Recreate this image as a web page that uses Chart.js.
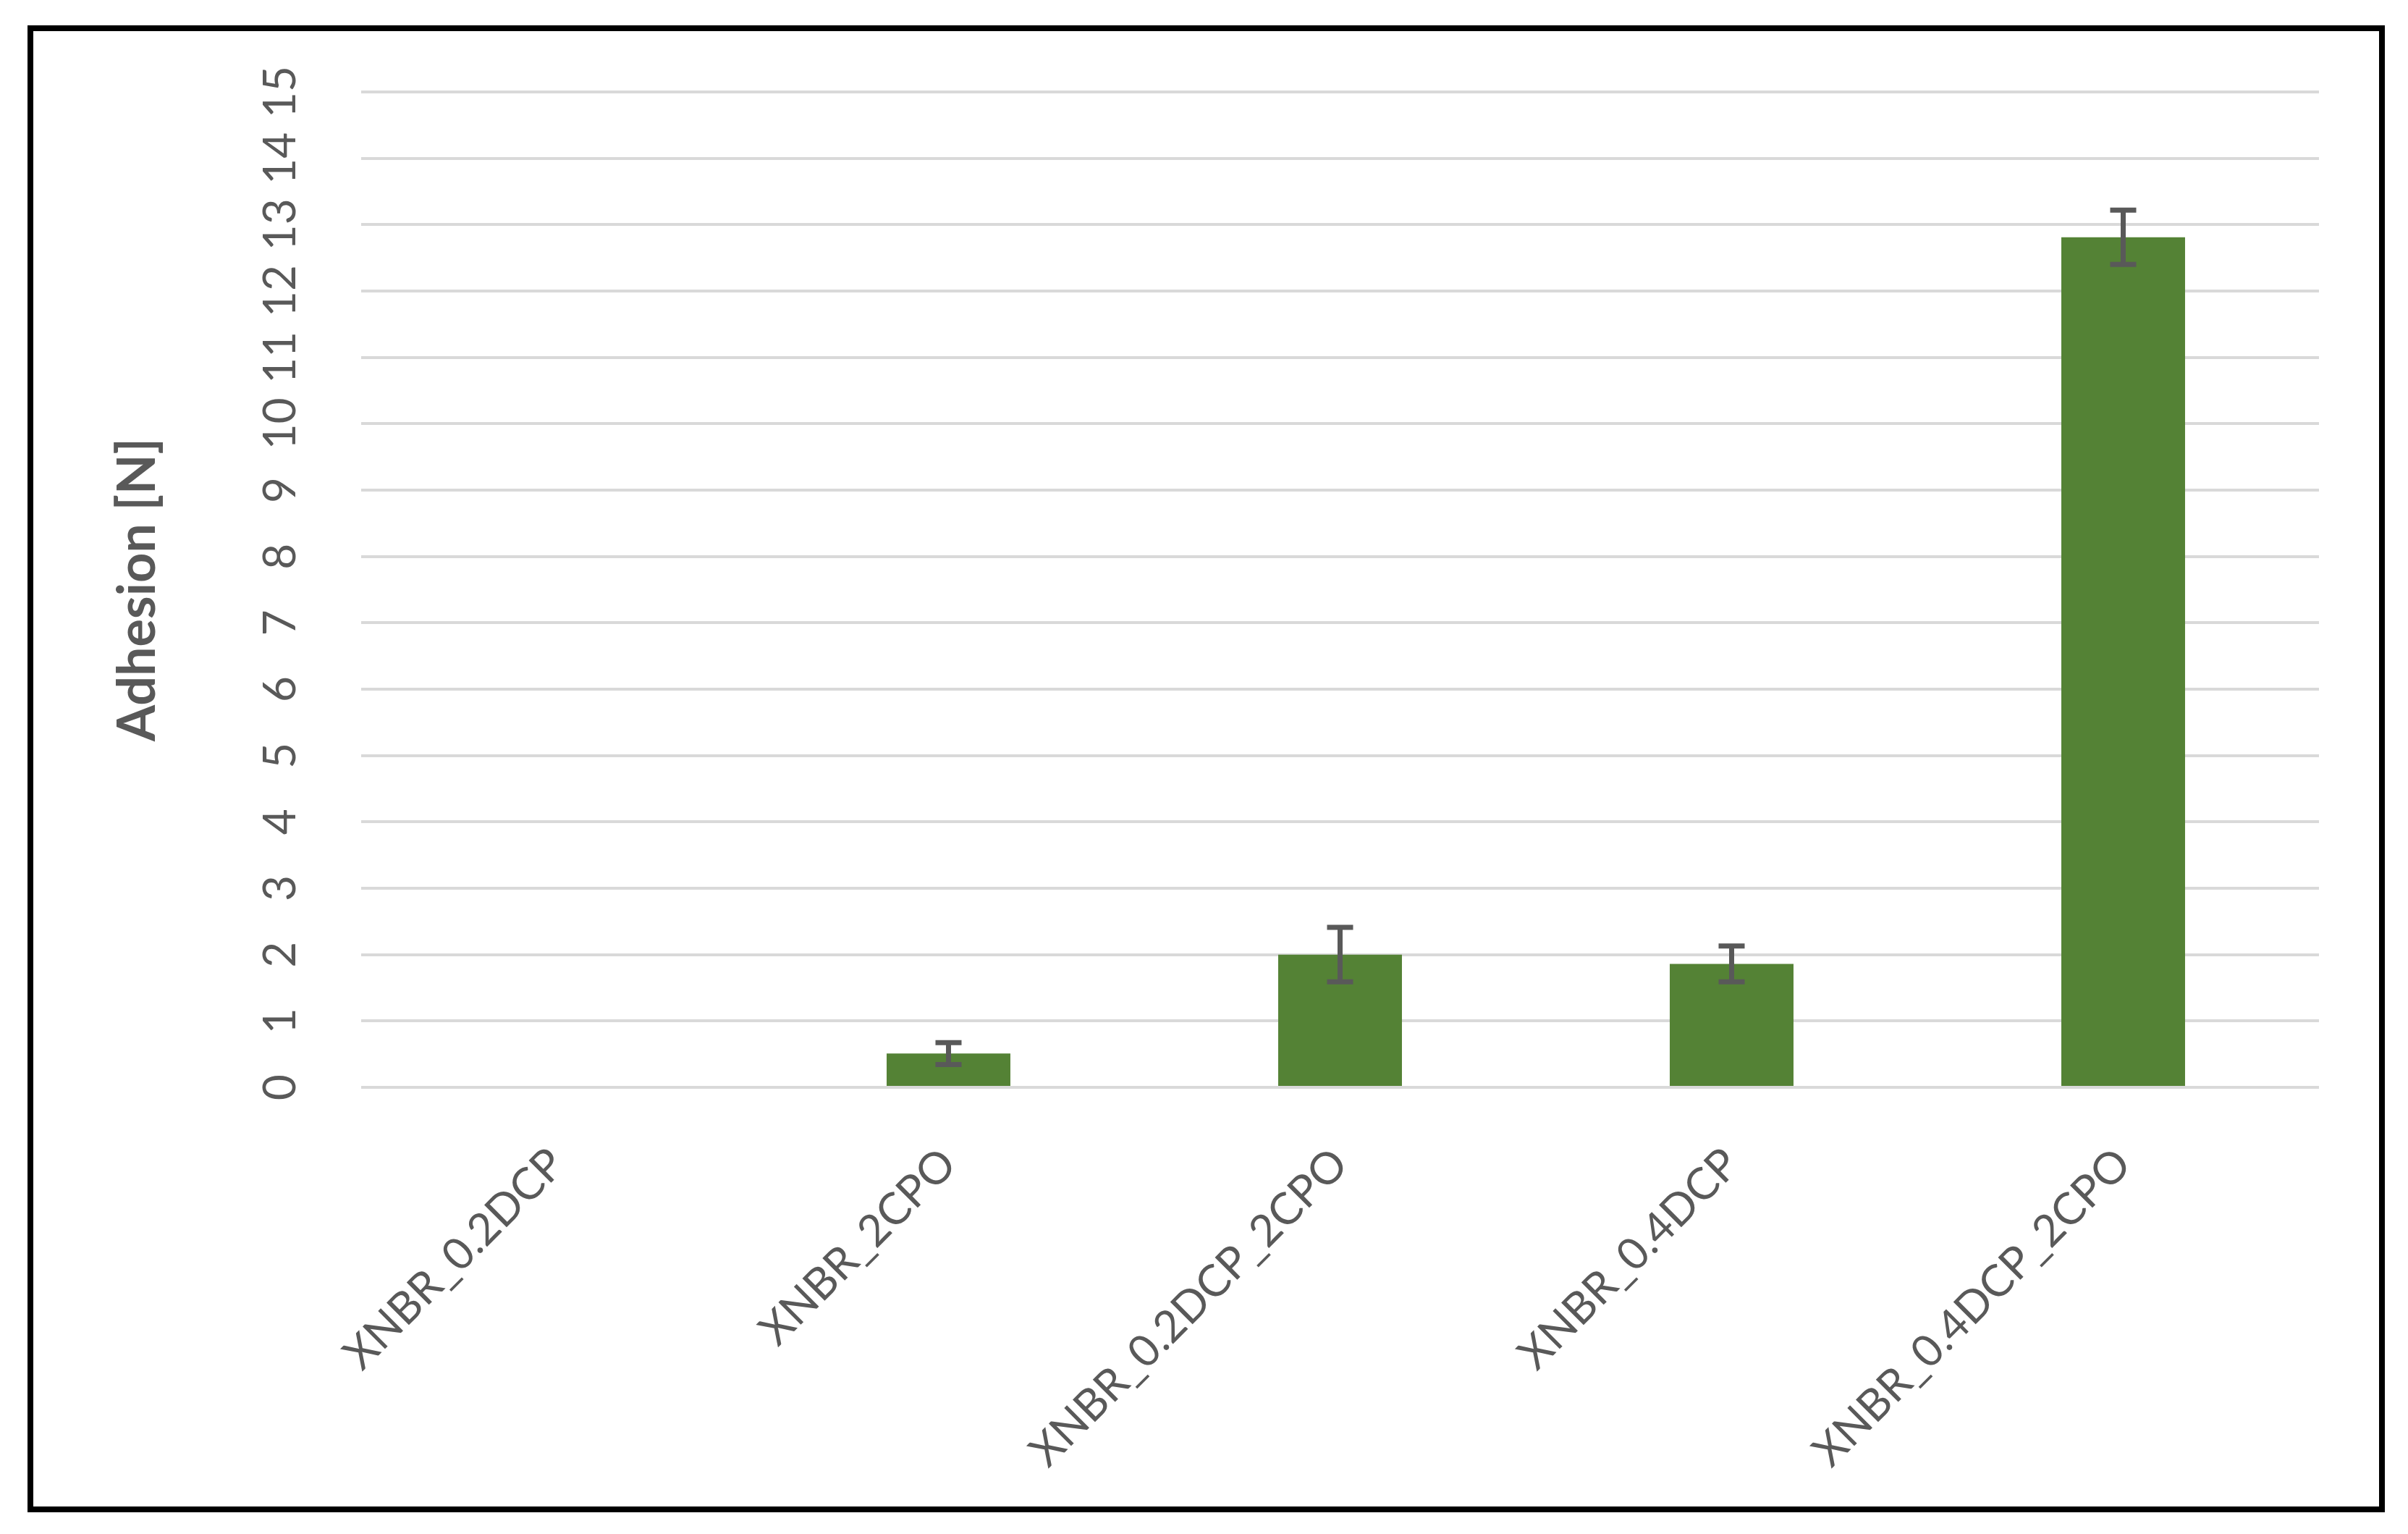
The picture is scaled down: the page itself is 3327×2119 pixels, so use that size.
<!DOCTYPE html>
<html lang="en">
<head>
    <meta charset="UTF-8">
    <title>Adhesion</title>
    <script src="https://cdn.jsdelivr.net/npm/chart.js"></script>
    <style>
        body {
            margin: 0;
            background: #ffffff;
        }
        .chart-frame {
            position: absolute;
            left: 38px;
            top: 35px;
            width: 3257px;
            height: 2054px;
            border: 8px solid #000000;
            box-sizing: border-box;
            background: #ffffff;
        }
        canvas {
            display: block;
        }
    </style>
</head>
<body>
    <div class="chart-frame">
        <canvas id="adhesionChart" width="3241" height="2038"></canvas>
    </div>

    <script>
        // Chart data
        const categories = ['XNBR_0.2DCP', 'XNBR_2CPO', 'XNBR_0.2DCP_2CPO', 'XNBR_0.4DCP', 'XNBR_0.4DCP_2CPO'];
        const adhesion = [0, 0.51, 2.0, 1.86, 12.81];
        const adhesionError = [0, 0.165, 0.41, 0.27, 0.41];
        const yTicks = [0, 1, 2, 3, 4, 5, 6, 7, 8, 9, 10, 11, 12, 13, 14, 15];

        const textGray = '#595959';

        // Draws the error bars (whiskers with caps) on top of the bars
        const errorBarPlugin = {
            id: 'errorBars',
            afterDatasetsDraw(chart) {
                const ctx = chart.ctx;
                const yScale = chart.scales.y;
                const meta = chart.getDatasetMeta(0);
                ctx.save();
                ctx.strokeStyle = textGray;
                ctx.lineWidth = 7;
                meta.data.forEach((bar, i) => {
                    const err = adhesionError[i];
                    if (!err) return;
                    const x = bar.x;
                    const yTop = yScale.getPixelForValue(adhesion[i] + err);
                    const yBottom = yScale.getPixelForValue(adhesion[i] - err);
                    const capHalf = 18;
                    ctx.beginPath();
                    ctx.moveTo(x, yTop);
                    ctx.lineTo(x, yBottom);
                    ctx.moveTo(x - capHalf, yTop);
                    ctx.lineTo(x + capHalf, yTop);
                    ctx.moveTo(x - capHalf, yBottom);
                    ctx.lineTo(x + capHalf, yBottom);
                    ctx.stroke();
                });
                ctx.restore();
            }
        };

        Chart.defaults.font.family = 'Lato, "Open Sans", sans-serif';
        Chart.defaults.color = textGray;

        const ctx = document.getElementById('adhesionChart').getContext('2d');
        const chart = new Chart(ctx, {
            type: 'bar',
            data: {
                labels: categories,
                datasets: [
                    {
                        label: 'Adhesion',
                        data: adhesion,
                        backgroundColor: '#548235',
                        borderWidth: 0,
                        categoryPercentage: 1.0,
                        barPercentage: 0.316
                    }
                ]
            },
            options: {
                responsive: false,
                animation: false,
                devicePixelRatio: 1,
                layout: {
                    padding: { top: 84, right: 83, bottom: 0, left: 0 }
                },
                plugins: {
                    legend: { display: false },
                    tooltip: { enabled: false }
                },
                scales: {
                    x: {
                        grid: { display: false },
                        border: { display: false },
                        ticks: {
                            color: textGray,
                            font: { size: 61 },
                            minRotation: 45,
                            maxRotation: 45,
                            padding: 62,
                            autoSkip: false
                        },
                        afterFit: (scale) => { scale.height = 579; }
                    },
                    y: {
                        min: 0,
                        max: 15,
                        afterBuildTicks: (scale) => {
                            scale.ticks = yTicks.map(v => ({ value: v }));
                        },
                        grid: {
                            color: '#d9d9d9',
                            lineWidth: 4,
                            drawTicks: false
                        },
                        border: { display: false },
                        ticks: {
                            color: textGray,
                            font: { size: 62 },
                            minRotation: 90,
                            maxRotation: 90,
                            crossAlign: 'center',
                            padding: 75
                        },
                        title: {
                            display: true,
                            text: 'Adhesion [N]',
                            color: textGray,
                            font: { size: 72, weight: 'bold' },
                            padding: { top: 102, bottom: 0 }
                        },
                        afterFit: (scale) => {
                            // fixed axis width; keep the tick padding from pushing the plot down
                            scale.width = 453;
                            scale.paddingTop = 0;
                            scale.paddingBottom = 0;
                        }
                    }
                }
            },
            plugins: [errorBarPlugin]
        });
    </script>
</body>
</html>
